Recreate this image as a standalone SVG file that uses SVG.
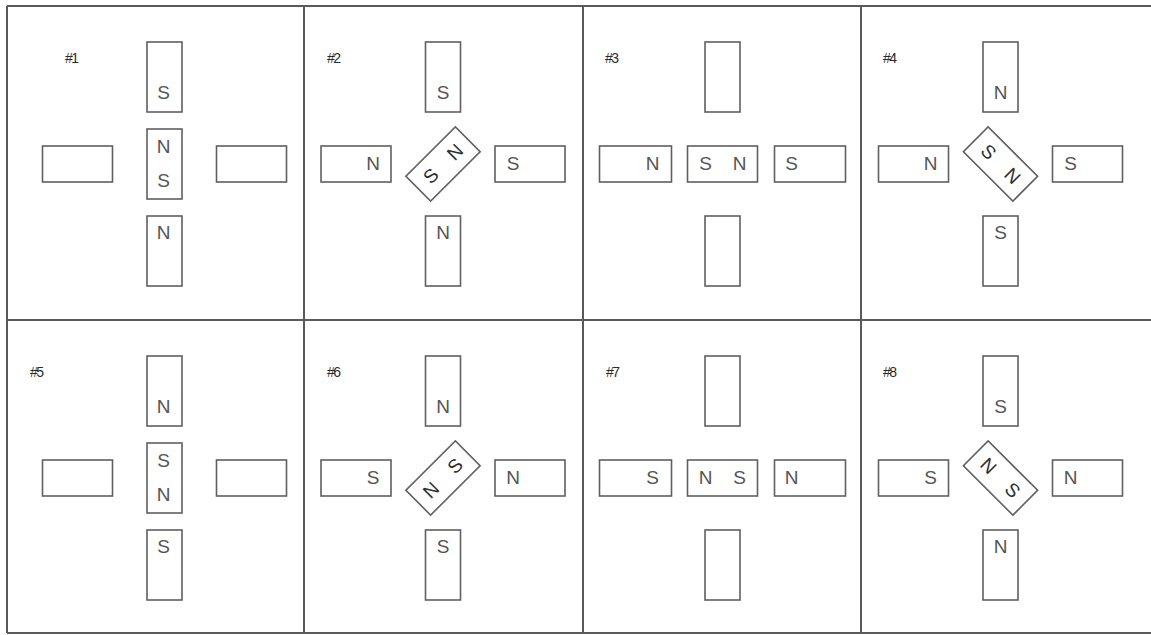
<svg xmlns="http://www.w3.org/2000/svg" width="1151" height="635" viewBox="0 0 1151 635">
<style>
.bg{fill:#fff}
.grid{stroke:#5a5a5a;stroke-width:2;fill:none}
.mag{fill:#fff;stroke:#606060;stroke-width:1.6}
.t{font-family:"Liberation Sans",Arial,sans-serif;font-size:19px;fill:#555;text-anchor:middle}
.rt{fill:#2e2e2e}
.lbl{font-family:"Liberation Sans",Arial,sans-serif;font-size:14px;fill:#2a2a2a;letter-spacing:-1.5px}
</style>
<rect class="bg" x="0" y="0" width="1151" height="635"/>
<g id="grid" class="grid">
<line x1="7" y1="6" x2="1151" y2="6"/>
<line x1="7" y1="633" x2="1151" y2="633"/>
<line x1="7" y1="6" x2="7" y2="633"/>
<line x1="304" y1="6" x2="304" y2="633"/>
<line x1="583" y1="6" x2="583" y2="633"/>
<line x1="861" y1="6" x2="861" y2="633"/>
<line x1="7" y1="320" x2="1151" y2="320"/>
</g>
<g id="labels">
<text class="lbl" x="65" y="63">#1</text>
<text class="lbl" x="327" y="63">#2</text>
<text class="lbl" x="605" y="63">#3</text>
<text class="lbl" x="883" y="63">#4</text>
<text class="lbl" x="30" y="377">#5</text>
<text class="lbl" x="327" y="377">#6</text>
<text class="lbl" x="606" y="377">#7</text>
<text class="lbl" x="883" y="377">#8</text>
</g>
<g id="connectors"/>
<g id="panel1" transform="translate(164.5,164)">
<g id="p1-top"><rect class="mag" x="-17.5" y="-122" width="35" height="70"/><text class="t" x="-1" y="-65">S</text></g>
<g id="p1-center"><rect class="mag" x="-17.5" y="-35" width="35" height="70"/><text class="t" x="-1" y="-11">N</text><text class="t" x="-1" y="23">S</text></g>
<g id="p1-bottom"><rect class="mag" x="-17.5" y="52" width="35" height="70"/><text class="t" x="-1" y="75">N</text></g>
<g id="p1-left"><rect class="mag" x="-122" y="-18" width="70" height="36"/></g>
<g id="p1-right"><rect class="mag" x="52" y="-18" width="70" height="36"/></g>
</g>
<g id="panel2" transform="translate(443,164)">
<g id="p2-top"><rect class="mag" x="-17.5" y="-122" width="35" height="70"/><text class="t" x="0" y="-65">S</text></g>
<g id="p2-center" transform="rotate(-45)"><rect class="mag" x="-35" y="-17.5" width="70" height="35"/><text class="t rt" x="-17" y="6.5">S</text><text class="t rt" x="17" y="6.5">N</text></g>
<g id="p2-bottom"><rect class="mag" x="-17.5" y="52" width="35" height="70"/><text class="t" x="0" y="75">N</text></g>
<g id="p2-left"><rect class="mag" x="-122" y="-18" width="70" height="36"/><text class="t" x="-70" y="6">N</text></g>
<g id="p2-right"><rect class="mag" x="52" y="-18" width="70" height="36"/><text class="t" x="70" y="6">S</text></g>
</g>
<g id="panel3" transform="translate(722.5,164)">
<g id="p3-top"><rect class="mag" x="-17.5" y="-122" width="35" height="70"/></g>
<g id="p3-center"><rect class="mag" x="-35" y="-18" width="70" height="36"/><text class="t" x="-17" y="6">S</text><text class="t" x="17" y="6">N</text></g>
<g id="p3-bottom"><rect class="mag" x="-17.5" y="52" width="35" height="70"/></g>
<g id="p3-left"><rect class="mag" x="-123" y="-18" width="72" height="36"/><text class="t" x="-70" y="6">N</text></g>
<g id="p3-right"><rect class="mag" x="52" y="-18" width="71" height="36"/><text class="t" x="69" y="6">S</text></g>
</g>
<g id="panel4" transform="translate(1000.5,164)">
<g id="p4-top"><rect class="mag" x="-17.5" y="-122" width="35" height="70"/><text class="t" x="0" y="-65">N</text></g>
<g id="p4-center" transform="rotate(45)"><rect class="mag" x="-35" y="-17.5" width="70" height="35"/><text class="t rt" x="-17" y="6.5">S</text><text class="t rt" x="17" y="6.5">N</text></g>
<g id="p4-bottom"><rect class="mag" x="-17.5" y="52" width="35" height="70"/><text class="t" x="0" y="75">S</text></g>
<g id="p4-left"><rect class="mag" x="-122" y="-18" width="70" height="36"/><text class="t" x="-70" y="6">N</text></g>
<g id="p4-right"><rect class="mag" x="52" y="-18" width="70" height="36"/><text class="t" x="70" y="6">S</text></g>
</g>
<g id="panel5" transform="translate(164.5,478)">
<g id="p5-top"><rect class="mag" x="-17.5" y="-122" width="35" height="70"/><text class="t" x="-1" y="-65">N</text></g>
<g id="p5-center"><rect class="mag" x="-17.5" y="-35" width="35" height="70"/><text class="t" x="-1" y="-11">S</text><text class="t" x="-1" y="23">N</text></g>
<g id="p5-bottom"><rect class="mag" x="-17.5" y="52" width="35" height="70"/><text class="t" x="-1" y="75">S</text></g>
<g id="p5-left"><rect class="mag" x="-122" y="-18" width="70" height="36"/></g>
<g id="p5-right"><rect class="mag" x="52" y="-18" width="70" height="36"/></g>
</g>
<g id="panel6" transform="translate(443,478)">
<g id="p6-top"><rect class="mag" x="-17.5" y="-122" width="35" height="70"/><text class="t" x="0" y="-65">N</text></g>
<g id="p6-center" transform="rotate(-45)"><rect class="mag" x="-35" y="-17.5" width="70" height="35"/><text class="t rt" x="-17" y="6.5">N</text><text class="t rt" x="17" y="6.5">S</text></g>
<g id="p6-bottom"><rect class="mag" x="-17.5" y="52" width="35" height="70"/><text class="t" x="0" y="75">S</text></g>
<g id="p6-left"><rect class="mag" x="-122" y="-18" width="70" height="36"/><text class="t" x="-70" y="6">S</text></g>
<g id="p6-right"><rect class="mag" x="52" y="-18" width="70" height="36"/><text class="t" x="70" y="6">N</text></g>
</g>
<g id="panel7" transform="translate(722.5,478)">
<g id="p7-top"><rect class="mag" x="-17.5" y="-122" width="35" height="70"/></g>
<g id="p7-center"><rect class="mag" x="-35" y="-18" width="70" height="36"/><text class="t" x="-17" y="6">N</text><text class="t" x="17" y="6">S</text></g>
<g id="p7-bottom"><rect class="mag" x="-17.5" y="52" width="35" height="70"/></g>
<g id="p7-left"><rect class="mag" x="-123" y="-18" width="72" height="36"/><text class="t" x="-70" y="6">S</text></g>
<g id="p7-right"><rect class="mag" x="52" y="-18" width="71" height="36"/><text class="t" x="69" y="6">N</text></g>
</g>
<g id="panel8" transform="translate(1000.5,478)">
<g id="p8-top"><rect class="mag" x="-17.5" y="-122" width="35" height="70"/><text class="t" x="0" y="-65">S</text></g>
<g id="p8-center" transform="rotate(45)"><rect class="mag" x="-35" y="-17.5" width="70" height="35"/><text class="t rt" x="-17" y="6.5">N</text><text class="t rt" x="17" y="6.5">S</text></g>
<g id="p8-bottom"><rect class="mag" x="-17.5" y="52" width="35" height="70"/><text class="t" x="0" y="75">N</text></g>
<g id="p8-left"><rect class="mag" x="-122" y="-18" width="70" height="36"/><text class="t" x="-70" y="6">S</text></g>
<g id="p8-right"><rect class="mag" x="52" y="-18" width="70" height="36"/><text class="t" x="70" y="6">N</text></g>
</g>
</svg>
